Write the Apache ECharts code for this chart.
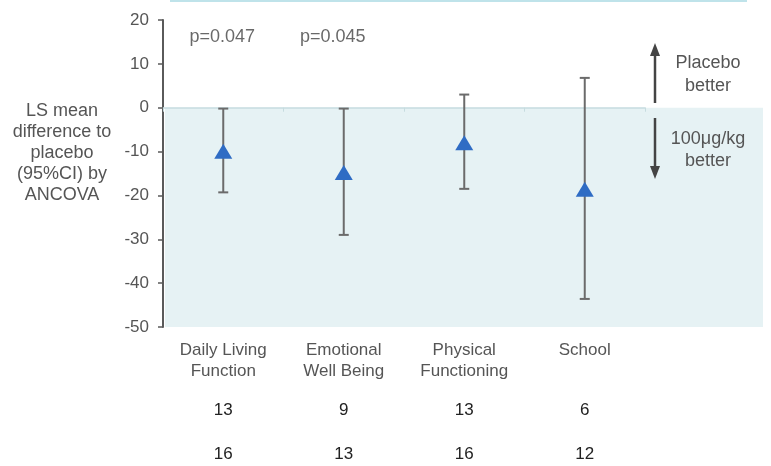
<!DOCTYPE html>
<html>
<head>
<meta charset="utf-8">
<script src="https://cdn.jsdelivr.net/npm/echarts@6/dist/echarts.min.js"></script>
<style>html,body{margin:0;padding:0;background:#fff;}#chart{width:771px;height:466px;}</style>
</head>
<body>
<div id="chart"></div>
<script>
var categories = ['Daily Living\nFunction', 'Emotional\nWell Being', 'Physical\nFunctioning', 'School'];
var meanDiff = [-9.9, -14.8, -8.0, -18.6];
var ciUpper = [-0.2, -0.2, 3.0, 6.8];
var ciLower = [-19.3, -29.0, -18.5, -43.6];
var nPlacebo = [13, 9, 13, 6];
var nActive = [16, 13, 16, 12];
var pValues = ['p=0.047', 'p=0.045', '', ''];
var yTicks = { min: -50, max: 20, interval: 10 };

var FONT = '"Liberation Sans", Arial, sans-serif';
var chart = echarts.init(document.getElementById('chart'), null, { renderer: 'canvas' });

function labelFmt(v, i) {
  var parts = String(v).split('\n');
  var l1 = parts[0], l2 = parts[1] || ' ';
  return '{c|' + l1 + '}\n{c|' + l2 + '}\n{s| }\n{n|' + nPlacebo[i] + '}\n{n|' + nActive[i] + '}';
}

var option = {
  animation: false,
  backgroundColor: '#ffffff',
  textStyle: { fontFamily: FONT },
  grid: { left: 163, right: 126, top: 20, bottom: 139, containLabel: false },
  xAxis: [
    {
      type: 'category', data: categories, position: 'bottom',
      axisLine: { show: false, onZero: false }, axisTick: { show: false },
      axisLabel: {
        interval: 0, margin: 13, formatter: labelFmt,
        rich: {
          c: { fontSize: 17, color: '#555555', lineHeight: 21, fontFamily: FONT },
          s: { fontSize: 2, lineHeight: 6 },
          n: { fontSize: 17, color: '#222222', lineHeight: 44, fontFamily: FONT }
        }
      }
    },
    {
      type: 'category', data: categories, position: 'bottom',
      axisLine: { show: true, onZero: true, lineStyle: { color: '#c6dcdf', width: 1.5 } },
      axisTick: { show: true, length: 4, lineStyle: { color: '#c6dcdf' } },
      axisLabel: { show: false }
    }
  ],
  yAxis: {
    type: 'value', min: yTicks.min, max: yTicks.max, interval: yTicks.interval,
    axisLine: { show: true, lineStyle: { color: '#5a5a5a', width: 2 } },
    axisTick: { show: true, length: 5, lineStyle: { color: '#5a5a5a', width: 1.5 } },
    axisLabel: { color: '#555555', fontSize: 17, margin: 14, fontFamily: FONT },
    splitLine: { show: false }
  },
  series: [
    {
      type: 'custom', xAxisIndex: 0, z: 3,
      data: categories.map(function (c, i) { return [i, ciUpper[i], ciLower[i]]; }),
      encode: { x: 0, y: [1, 2] },
      renderItem: function (params, api) {
        var x = api.value(0);
        var top = api.coord([x, api.value(1)]);
        var bot = api.coord([x, api.value(2)]);
        var hw = 5;
        var st = { stroke: '#6b6b6b', lineWidth: 2 };
        return {
          type: 'group',
          children: [
            { type: 'line', shape: { x1: top[0], y1: top[1], x2: bot[0], y2: bot[1] }, style: st },
            { type: 'line', shape: { x1: top[0] - hw, y1: top[1], x2: top[0] + hw, y2: top[1] }, style: st },
            { type: 'line', shape: { x1: bot[0] - hw, y1: bot[1], x2: bot[0] + hw, y2: bot[1] }, style: st }
          ]
        };
      }
    },
    {
      type: 'scatter', xAxisIndex: 0, z: 4,
      symbol: 'triangle', symbolSize: [18, 15],
      itemStyle: { color: '#2f6cc4', opacity: 1 },
      data: meanDiff
    },
    {
      type: 'scatter', xAxisIndex: 0, z: 4, symbolSize: 0, silent: true,
      data: pValues.map(function (p, i) {
        return {
          value: [i, 16.1],
          label: { show: p !== '', formatter: p, position: 'inside',
                   offset: [i === 1 ? -11 : -1, 0], color: '#444444', fontSize: 18, fontFamily: FONT }
        };
      })
    }
  ]
};
chart.setOption(option);

var zeroY = chart.convertToPixel({ yAxisIndex: 0 }, 0);
var minY = chart.convertToPixel({ yAxisIndex: 0 }, yTicks.min);
var axX = 163;

chart.setOption({
  graphic: [
    { type: 'rect', z: -10, silent: true,
      shape: { x: axX + 2, y: zeroY, width: 763 - axX - 2, height: minY - zeroY },
      style: { fill: '#e6f2f4' } },
    { type: 'line', z: -10, silent: true,
      shape: { x1: 170, y1: 1, x2: 747, y2: 1 },
      style: { stroke: '#bfe3ea', lineWidth: 2 } },
    { type: 'text', silent: true, x: 62, y: 101,
      style: { text: 'LS mean\ndifference to\nplacebo\n(95%CI) by\nANCOVA', fill: '#555555',
               font: '18px ' + FONT, lineHeight: 21, align: 'center', verticalAlign: 'top' } },
    // up arrow
    { type: 'line', silent: true, shape: { x1: 655, y1: 103, x2: 655, y2: 55 },
      style: { stroke: '#444444', lineWidth: 2.5 } },
    { type: 'polygon', silent: true, shape: { points: [[655, 43], [650, 56], [660, 56]] },
      style: { fill: '#444444' } },
    // down arrow
    { type: 'line', silent: true, shape: { x1: 655, y1: 118, x2: 655, y2: 167 },
      style: { stroke: '#444444', lineWidth: 2.5 } },
    { type: 'polygon', silent: true, shape: { points: [[655, 179], [650, 166], [660, 166]] },
      style: { fill: '#444444' } },
    { type: 'text', silent: true, x: 708, y: 52,
      style: { text: 'Placebo\nbetter', fill: '#555555', font: '18px ' + FONT, lineHeight: 23, align: 'center', verticalAlign: 'top' } },
    { type: 'text', silent: true, x: 708, y: 128,
      style: { text: '100μg/kg\nbetter', fill: '#555555', font: '18px ' + FONT, lineHeight: 22, align: 'center', verticalAlign: 'top' } }
  ]
});
</script>
</body>
</html>
